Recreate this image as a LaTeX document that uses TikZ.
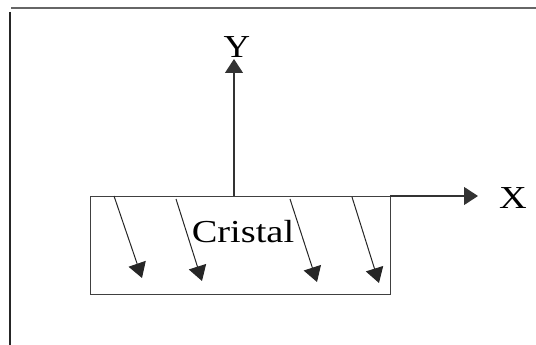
\documentclass[tikz,border=0pt]{standalone}
\usepackage{fontspec}
\usepackage{graphicx}
\setmainfont{Liberation Serif}
\usetikzlibrary{arrows.meta}
\begin{document}
\begin{tikzpicture}[x=1pt,y=-1pt,
  axis/.style={draw=black!80,line width=1.1pt,-{Triangle[length=14pt,width=18pt]}},
  ray/.style={draw=black!85,line width=1pt,-{Triangle[length=15pt,width=18pt]}},
  lbl/.style={font=\fontsize{32}{34}\selectfont,inner sep=0pt,anchor=base}]
\useasboundingbox (0,0) rectangle (536,345);
\draw[black!60,line width=1.2pt] (11,8) -- (536,8);
\draw[black!85,line width=1.2pt] (10,12) -- (10,345);
\node[draw=black!75,line width=1.1pt,minimum width=300pt,minimum height=98pt,inner sep=0pt,anchor=north west] (box) at (90,196) {};
\coordinate (yo) at (234,196);
\coordinate (yt) at (234,59);
\coordinate (xo) at (390,196);
\coordinate (xt) at (478,196);
\draw[axis] (yo) -- (yt);
\draw[axis] (xo) -- (xt);
\node[lbl] (Y) at (237,58) {\scalebox{1.15}[1]{Y}};
\node[lbl] (X) at (513,208) {\scalebox{1.2}[1]{X}};
\node[lbl] (C) at (243,242) {\scalebox{1.2}[1]{Cristal}};
\coordinate (a1) at (114,196); \coordinate (b1) at (142,278);
\coordinate (a2) at (176,199); \coordinate (b2) at (202,281);
\coordinate (a3) at (290,199); \coordinate (b3) at (317,282);
\coordinate (a4) at (352,197); \coordinate (b4) at (379,283);
\foreach \i in {1,2,3,4} \draw[ray] (a\i) -- (b\i);
\end{tikzpicture}
\end{document}
